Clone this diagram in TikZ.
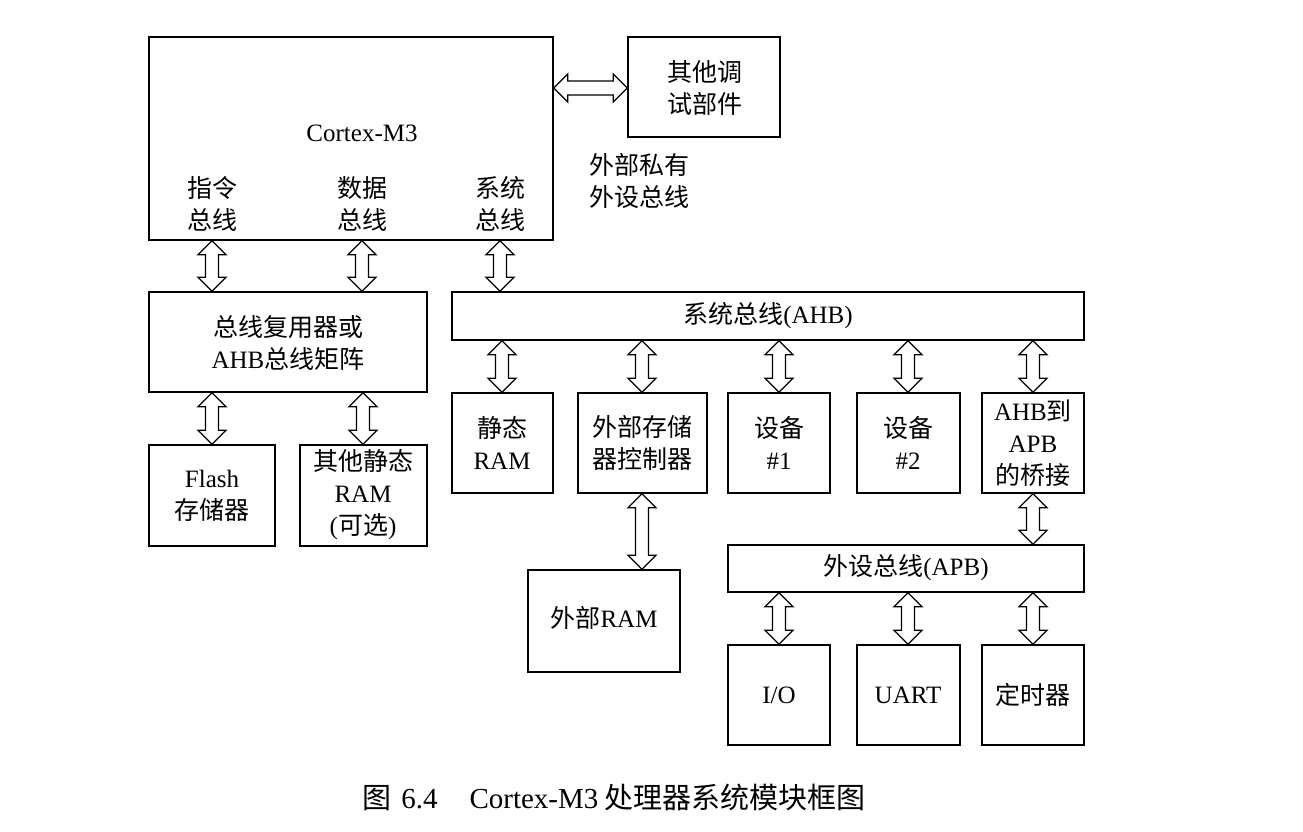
\documentclass[tikz,border=0pt]{standalone}
\usepackage{fontspec}
\setmainfont{Liberation Serif}
\newfontfamily\cjk{Noto Sans CJK SC}
\usetikzlibrary{calc,fit}
\newcommand\fs{\fontsize{25}{32}\selectfont}
\tikzset{
  box/.style={draw, line width=1.4pt, inner sep=0pt, align=center, font=\fs},
  cbox/.style={box, font=\fs\cjk},
  txt/.style={inner sep=0pt, align=center, font=\fs},
  ctxt/.style={txt, font=\fs\cjk},
  harrow/.style={draw, line width=1.3pt, fill=white, line join=miter},
}
% vertical hollow double arrow at x=#1 from node #2 (bottom side) to node #3 (top side)
\newcommand\vArrow[3]{\path[harrow] let \p3=(#1,0), \p1=(#2.south), \p2=(#3.north) in
  (\x3,\y1) -- (\x3+14pt,\y1-14pt) -- (\x3+6.5pt,\y1-14pt) -- (\x3+6.5pt,\y2+14pt) --
  (\x3+14pt,\y2+14pt) -- (\x3,\y2) -- (\x3-14pt,\y2+14pt) -- (\x3-6.5pt,\y2+14pt) --
  (\x3-6.5pt,\y1-14pt) -- (\x3-14pt,\y1-14pt) -- cycle;}
% horizontal hollow double arrow at y=#1 from node #2 (east side) to node #3 (west side)
\newcommand\hArrow[3]{\path[harrow] let \p3=(0,#1), \p1=(#2.east), \p2=(#3.west) in
  (\x1,\y3) -- (\x1+14pt,\y3+14pt) -- (\x1+14pt,\y3+7pt) -- (\x2-14pt,\y3+7pt) --
  (\x2-14pt,\y3+14pt) -- (\x2,\y3) -- (\x2-14pt,\y3-14pt) -- (\x2-14pt,\y3-7pt) --
  (\x1+14pt,\y3-7pt) -- (\x1+14pt,\y3-14pt) -- cycle;}
\begin{document}
\begin{tikzpicture}[x=1pt,y=-1pt]
\useasboundingbox[fill=white] (0,0) rectangle (1303,832);
% Cortex-M3 core
\node[box, fit={(149,37) (553,240)}] (cm3) {};
\node[txt] (cmlabel) at (362,133) {Cortex-M3};
\node[ctxt] (ibus) at (212,204) {指令\\总线};
\node[ctxt] (dbus) at (362,204) {数据\\总线};
\node[ctxt] (sbus) at (500,204) {系统\\总线};
% debug
\node[cbox, fit={(628,37) (780,137)}] (dbg) {};
\node[ctxt] (dbglabel) at (705,88) {其他调\\试部件};
\node[ctxt, anchor=west, align=left] (ppb) at (589,181) {外部私有\\外设总线};
% bus mux
\node[box, fit={(149,292) (427,392)}] (mux) {};
\node[txt] (muxlabel) at (288,343) {{\cjk 总线复用器或}\\AHB{\cjk 总线矩阵}};
% AHB bar
\node[box, fit={(452,292) (1084,340)}] (ahb) {};
\node[txt] (ahblabel) at (768,316) {{\cjk 系统总线}(AHB)};
% flash and ram
\node[box, fit={(149,445) (275,546)}] (flash) {};
\node[txt] (flashlabel) at (212,496) {Flash\\{\cjk 存储器}};
\node[box, fit={(300,445) (427,546)}] (oram) {};
\node[txt] (oramlabel) at (363,495) {{\cjk 其他静态}\\RAM\\({\cjk 可选})};
% second row
\node[box, fit={(452,393) (553,493)}] (sram) {};
\node[txt] (sramlabel) at (502,443) {{\cjk 静态}\\RAM};
\node[box, fit={(578,393) (707,493)}] (emc) {};
\node[ctxt] (emclabel) at (642,443) {外部存储\\器控制器};
\node[box, fit={(728,393) (830,493)}] (dev1) {};
\node[txt] (dev1label) at (779,443) {{\cjk 设备}\\\#1};
\node[box, fit={(857,393) (960,493)}] (dev2) {};
\node[txt] (dev2label) at (908,443) {{\cjk 设备}\\\#2};
\node[box, fit={(982,393) (1084,493)}] (bridge) {};
\node[txt] (bridgelabel) at (1033,443) {AHB{\cjk 到}\\APB\\{\cjk 的桥接}};
% external RAM
\node[box, fit={(528,570) (680,672)}] (eram) {};
\node[txt] (eramlabel) at (604,618) {{\cjk 外部}RAM};
% APB bar
\node[box, fit={(728,545) (1084,592)}] (apb) {};
\node[txt] (apblabel) at (906,568) {{\cjk 外设总线}(APB)};
% peripherals
\node[box, fit={(728,645) (830,745)}] (io) {};
\node[txt] (iolabel) at (779,695) {I/O};
\node[box, fit={(857,645) (960,745)}] (uart) {};
\node[txt] (uartlabel) at (908,695) {UART};
\node[box, fit={(982,645) (1084,745)}] (timer) {};
\node[ctxt] (timerlabel) at (1033,695) {定时器};
% arrows
\hArrow{88}{cm3}{dbg}
\vArrow{212}{cm3}{mux}
\vArrow{362}{cm3}{mux}
\vArrow{500}{cm3}{ahb}
\vArrow{212}{mux}{flash}
\vArrow{363}{mux}{oram}
\vArrow{502}{ahb}{sram}
\vArrow{642}{ahb}{emc}
\vArrow{779}{ahb}{dev1}
\vArrow{908}{ahb}{dev2}
\vArrow{1033}{ahb}{bridge}
\vArrow{642}{emc}{eram}
\vArrow{1033}{bridge}{apb}
\vArrow{779}{apb}{io}
\vArrow{908}{apb}{uart}
\vArrow{1033}{apb}{timer}
% caption
\node[txt, anchor=west, font=\fontsize{29}{34}\selectfont] (caption) at (362,797) {{\cjk 图}\hspace{0.35em}6.4\hspace{1.1em}Cortex-M3\hspace{0.2em}{\cjk 处理器系统模块框图}};
\end{tikzpicture}
\end{document}
